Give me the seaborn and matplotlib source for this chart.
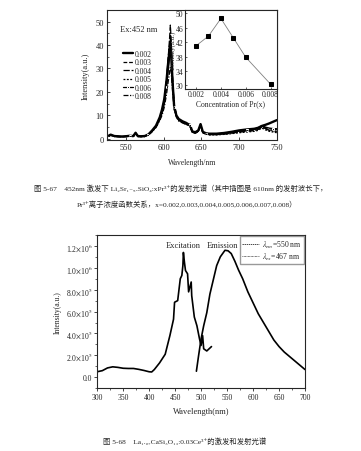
import matplotlib
matplotlib.use("Agg")
import matplotlib.pyplot as plt
from matplotlib.lines import Line2D
from matplotlib.ticker import MultipleLocator
import seaborn as sns

# Fig 5-67: emission spectra (Ex 452 nm) for several Pr3+ concentrations
wavelength = [525, 530, 535, 540, 545, 550, 555, 560, 563, 566, 570, 575, 580, 585, 590,
              595, 598, 601, 604, 606, 608, 609, 610, 612, 614, 617, 620, 625, 630, 633,
              635, 638, 642, 646, 649, 652, 656, 660, 670, 680, 690, 700, 710, 720, 725,
              730, 735, 740, 745, 750]
conc_labels = ["0.002", "0.003", "0.004", "0.005", "0.006", "0.008"]
em_002 = [0.9, 1.8, 1.2, 1.1, 1.0, 1.1, 1.3, 1.2, 2.6, 1.2, 1.1, 1.2, 1.9, 3.6, 5.6,
          9.2, 12.5, 17.0, 25.0, 32.0, 38.0, 41.0, 37.0, 24.0, 14.0, 10.0, 8.5, 7.5, 6.8, 6.2,
          6.0, 3.2, 2.8, 3.6, 6.3, 3.0, 2.4, 2.2, 2.2, 2.5, 3.0, 3.6, 4.0, 4.3, 4.7,
          5.5, 6.0, 6.6, 7.3, 8.0]
em_003 = [0.8, 1.6, 1.1, 1.0, 0.9, 1.0, 1.2, 1.1, 2.4, 1.1, 1.0, 1.1, 1.8, 3.4, 5.3,
          8.8, 12.0, 16.5, 25.0, 33.0, 40.0, 44.0, 40.0, 25.0, 14.5, 10.0, 8.2, 7.2, 6.5, 6.0,
          5.8, 3.0, 2.6, 3.4, 6.0, 2.8, 2.2, 2.0, 2.0, 2.3, 2.8, 3.3, 3.8, 4.0, 4.5,
          5.4, 4.8, 4.3, 4.1, 4.0]
em_004 = [0.7, 1.5, 1.0, 0.9, 0.9, 1.0, 1.1, 1.0, 2.3, 1.0, 0.9, 1.0, 1.7, 3.3, 5.2,
          8.5, 11.8, 16.0, 25.5, 34.0, 43.0, 48.5, 43.0, 26.0, 15.0, 10.2, 8.0, 7.0, 6.3, 5.8,
          5.6, 2.9, 2.5, 3.3, 5.8, 2.7, 2.0, 1.8, 1.8, 2.0, 2.4, 2.9, 3.2, 3.5, 4.0,
          5.0, 4.4, 3.9, 3.5, 3.3]
em_005 = [0.8, 1.5, 1.0, 1.0, 0.9, 1.0, 1.1, 1.0, 2.2, 1.0, 1.0, 1.0, 1.7, 3.2, 5.0,
          8.3, 11.5, 15.5, 24.0, 31.5, 39.0, 43.0, 39.0, 24.5, 14.0, 9.8, 8.0, 7.0, 6.2, 5.8,
          5.5, 2.8, 2.4, 3.2, 5.7, 2.6, 1.9, 1.7, 1.7, 1.9, 2.2, 2.6, 2.9, 3.2, 3.6,
          4.6, 3.8, 3.2, 2.9, 2.6]
em_006 = [0.9, 1.7, 1.1, 1.0, 1.0, 1.1, 1.2, 1.1, 2.5, 1.1, 1.0, 1.1, 1.8, 3.3, 5.1,
          8.2, 11.0, 15.0, 22.0, 28.5, 34.5, 38.0, 35.0, 23.0, 13.5, 9.6, 8.0, 7.1, 6.4, 6.0,
          5.7, 3.0, 2.6, 3.4, 5.9, 2.8, 2.2, 2.0, 2.1, 2.4, 2.9, 3.4, 3.8, 4.1, 4.6,
          5.6, 5.0, 4.6, 4.4, 4.3]
em_008 = [0.8, 1.6, 1.1, 1.0, 0.9, 1.0, 1.1, 1.0, 2.3, 1.0, 1.0, 1.0, 1.6, 3.0, 4.8,
          7.8, 10.0, 13.5, 19.0, 24.0, 28.5, 30.5, 29.0, 20.0, 12.5, 9.2, 7.6, 6.8, 6.1, 5.7,
          5.4, 2.8, 2.4, 3.2, 5.6, 2.6, 2.0, 1.8, 1.8, 2.1, 2.5, 3.0, 3.4, 3.7, 4.1,
          5.0, 4.2, 3.6, 3.2, 3.0]

# inset: 610 nm intensity vs Pr concentration
pr_conc = [0.002, 0.003, 0.004, 0.005, 0.006, 0.008]
pr_intensity = [41.0, 43.7, 48.6, 43.2, 37.8, 30.3]

# Fig 5-68: excitation / emission of La1.97CaSi3O13:0.03Ce3+ (intensity in 1e5 units)
exc_wl = [300, 310, 320, 330, 340, 350, 360, 370, 380, 390, 400, 405, 410, 420, 431,
          440, 447, 449, 455, 460, 463, 465, 466, 468, 470, 474, 476, 481, 482, 487,
          492, 497, 500, 503, 505, 511, 520]
exc_int = [0.5, 0.6, 0.85, 0.95, 0.9, 0.82, 0.8, 0.8, 0.72, 0.62, 0.5, 0.48, 0.7, 1.3, 2.1,
           3.8, 5.3, 6.85, 7.0, 9.0, 9.3, 10.2, 11.4, 10.5, 9.75, 9.45, 7.8, 8.7, 7.45, 5.5,
           4.7, 3.5, 2.9, 3.8, 2.6, 2.4, 2.8]
emi_wl = [491, 495, 500, 505, 511, 517, 524, 530, 537, 546, 552, 558, 565, 572, 580,
          590, 600, 610, 620, 630, 640, 650, 660, 670, 680, 690, 700]
emi_int = [0.55, 1.9, 3.5, 4.7, 5.9, 7.6, 9.0, 10.2, 11.0, 11.6, 11.55, 11.3, 10.6, 9.8, 9.0,
           7.8, 6.8, 5.8, 5.0, 4.2, 3.4, 2.8, 2.3, 1.9, 1.5, 1.1, 0.7]
ce_ticks = [0, 2, 4, 6, 8, 10, 12]
ce_ticklabels = ["0.0", r"2.0$\times$10$^5$", r"4.0$\times$10$^5$", r"6.0$\times$10$^5$",
                 r"8.0$\times$10$^5$", r"1.0$\times$10$^6$", r"1.2$\times$10$^6$"]

sns.set_style("ticks")
plt.rcParams["font.family"] = ["Liberation Serif", "DejaVu Serif", "Noto Sans CJK SC"]
plt.rcParams["mathtext.fontset"] = "stix"
plt.rcParams["axes.linewidth"] = 0.8
plt.rcParams["xtick.direction"] = "in"
plt.rcParams["ytick.direction"] = "in"

fig = plt.figure(figsize=(3.61, 4.52), dpi=100)

# ---- top: emission spectra
ax1 = fig.add_axes([0.296, 0.688, 0.471, 0.288])
styles = [
    ("-", None, 1.7),
    ((0, (3, 1.5)), None, 0.9),
    ((0, (5, 1.5)), None, 0.9),
    ((0, (1.5, 1.2)), None, 0.9),
    ("-", "s", 0.9),
    ((0, (4, 1.2, 1, 1.2)), None, 0.9),
]
series = [em_002, em_003, em_004, em_005, em_006, em_008]
for lab, ys, (ls, mk, lw) in zip(conc_labels, series, styles):
    sns.lineplot(x=wavelength, y=ys, ax=ax1, color="black", linestyle=ls, lw=lw,
                 marker=mk, markersize=2, markevery=6, label=lab)
ax1.set_xlim(525, 750)
ax1.set_ylim(-0.5, 55)
ax1.xaxis.set_major_locator(MultipleLocator(50))
ax1.yaxis.set_major_locator(MultipleLocator(10))
ax1.yaxis.set_minor_locator(MultipleLocator(5))
ax1.tick_params(labelsize=6, length=2.5, width=0.6, pad=2)
ax1.tick_params(which="minor", length=1.5, width=0.5)
ax1.set_xlabel("Wavelength/nm", fontsize=5.5, labelpad=5)
ax1.set_ylabel("Intensity(a.u.)", fontsize=6, labelpad=4)
ax1.text(0.08, 0.84, "Ex:452 nm", transform=ax1.transAxes, fontsize=6)
ax1.legend(loc="upper left", bbox_to_anchor=(0.07, 0.72), frameon=False, fontsize=5.5,
           handlelength=1.4, handletextpad=0.2, labelspacing=0.05, borderpad=0)

# ---- inset
ax2 = fig.add_axes([0.512, 0.801, 0.255, 0.175], facecolor="white")
sns.lineplot(x=pr_conc, y=pr_intensity, ax=ax2, color="gray", lw=0.6, marker="s",
             markersize=2.5, markerfacecolor="black", markeredgecolor="black")
ax2.set_xlim(0.0011, 0.0085)
ax2.set_ylim(29, 51)
ax2.set_xticks([0.002, 0.004, 0.006, 0.008])
ax2.set_xticklabels(["0.002", "0.004", "0.006", "0.008"])
ax2.set_yticks([30, 34, 38, 42, 46, 50])
ax2.tick_params(labelsize=5.5, length=1.5, width=0.5, pad=1)
ax2.set_xlabel("Concentration of Pr(x)", fontsize=5.5, labelpad=0.5)
ax2.set_ylabel("Intensity(a.u.)", fontsize=5, labelpad=0)

# ---- bottom: excitation and emission
ax3 = fig.add_axes([0.269, 0.139, 0.576, 0.339])
sns.lineplot(x=exc_wl, y=exc_int, ax=ax3, color="black", lw=1.2)
sns.lineplot(x=emi_wl, y=emi_int, ax=ax3, color="black", lw=1.2)
ax3.set_xlim(300, 700)
ax3.set_ylim(-1, 13)
ax3.xaxis.set_major_locator(MultipleLocator(50))
ax3.xaxis.set_minor_locator(MultipleLocator(25))
ax3.set_yticks(ce_ticks)
ax3.set_yticklabels(ce_ticklabels)
ax3.yaxis.set_minor_locator(MultipleLocator(1))
ax3.tick_params(direction="out", labelsize=5.5, length=2, width=0.6, pad=1.5)
ax3.tick_params(which="minor", direction="out", length=1.2, width=0.5)
ax3.set_xlabel("Wavelength(nm)", fontsize=6, labelpad=4)
ax3.set_ylabel("Intensity(a.u.)", fontsize=5.5, labelpad=3)
ax3.text(465, 12.1, "Excitation", fontsize=6, ha="center", va="center")
ax3.text(542, 12.1, "Emission", fontsize=6, ha="center", va="center")
handles = [Line2D([], [], color="black", lw=0.5, linestyle=(0, (2, 1))),
           Line2D([], [], color="black", lw=0.5, linestyle=(0, (1, 1)))]
ax3.legend(handles, [r"$\lambda_{em}$=550 nm", r"$\lambda_{ex}$=467 nm"], loc="upper right",
           fontsize=5.5, frameon=True, fancybox=False, edgecolor="gray",
           handlelength=2.2, handletextpad=0.3, labelspacing=0.1, borderpad=0.3,
           borderaxespad=0.2)

# ---- captions
cap_font = ["Liberation Serif", "DejaVu Serif", "Noto Sans CJK SC"]
fig.text(181 / 361, 1 - 188 / 452,
         "图 5-67    452nm 激发下 Li₂Sr₁₋₅ₓSiO₄:xPr³⁺的发射光谱（其中插图是 610nm 的发射波长下，",
         fontsize=5.3, ha="center", va="center", family=cap_font)
fig.text(77 / 361, 1 - 204 / 452,
         "Pr³⁺离子浓度函数关系，x=0.002,0.003,0.004,0.005,0.006,0.007,0.008）",
         fontsize=5.3, va="center", family=cap_font)
fig.text(103 / 361, 1 - 441 / 452,
         "图 5-68    La₁.₉₇CaSi₃O₁₃:0.03Ce³⁺的激发和发射光谱",
         fontsize=5.3, va="center", family=cap_font)

fig.savefig("out.png", dpi=100, facecolor="white")
